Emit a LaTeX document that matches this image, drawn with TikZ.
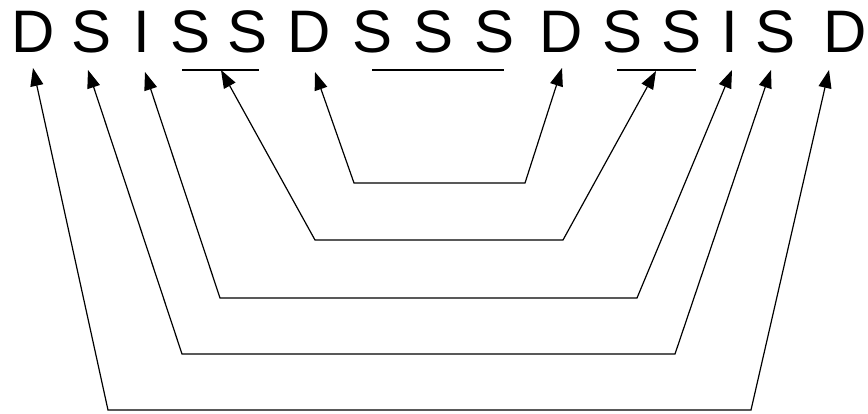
\documentclass[tikz,border=0pt]{standalone}
\usepackage{fontspec}
\setmainfont{Liberation Sans}
\usetikzlibrary{arrows.meta}

\begin{document}
\begin{tikzpicture}[
      x=1pt,y=-1pt,
      let/.style={inner sep=0pt,anchor=base,font=\fontsize{60}{72}\selectfont},
      bar/.style={black,line width=1.2pt},
      fl/.style={{Triangle[length=18pt,width=13pt]}-{Triangle[length=18pt,width=13pt]},
                 black,line width=1.2pt,line join=miter}]
    \useasboundingbox (0,0) rectangle (868,414);
    % the letter row
    \node[let] (d1) at (33,53) {D};
    \node[let] (s1) at (92,53) {S};
    \node[let] (i1) at (142,53) {I};
    \node[let] (s2) at (191,53) {S};
    \node[let] (s3) at (248,53) {S};
    \node[let] (d2) at (309,53) {D};
    \node[let] (s4) at (373,53) {S};
    \node[let] (s5) at (434,53) {S};
    \node[let] (s6) at (495,53) {S};
    \node[let] (d3) at (561,53) {D};
    \node[let] (s7) at (623,53) {S};
    \node[let] (s8) at (682,53) {S};
    \node[let] (i2) at (730,53) {I};
    \node[let] (s9) at (776,53) {S};
    \node[let] (d4) at (845,53) {D};
    % bars under the S groups
    \draw[bar] (182,70) -- (259,70);
    \draw[bar] (372,70) -- (504,70);
    \draw[bar] (617,70) -- (696,70);
    % arrow tips
    \coordinate (tD1) at (33,68);   \coordinate (tD4) at (829,70);
    \coordinate (tS1) at (88,70);   \coordinate (tS9) at (771,70);
    \coordinate (tI1) at (145,72);  \coordinate (tI2) at (732,70);
    \coordinate (tSS) at (221,70);  \coordinate (tSSb) at (656,71);
    \coordinate (tD2) at (315,72);  \coordinate (tD3) at (562,68);
    % corners of the brackets
    \coordinate (a1) at (354,183);  \coordinate (b1) at (525,183);
    \coordinate (a2) at (315,240);  \coordinate (b2) at (563,240);
    \coordinate (a3) at (220,298);  \coordinate (b3) at (637,298);
    \coordinate (a4) at (182,354);  \coordinate (b4) at (675,354);
    \coordinate (a5) at (108,410);  \coordinate (b5) at (751,410);
    \draw[fl] (tD2) -- (a1) -- (b1) -- (tD3);
    \draw[fl] (tSS) -- (a2) -- (b2) -- (tSSb);
    \draw[fl] (tI1) -- (a3) -- (b3) -- (tI2);
    \draw[fl] (tS1) -- (a4) -- (b4) -- (tS9);
    \draw[fl] (tD1) -- (a5) -- (b5) -- (tD4);
  \end{tikzpicture}
\end{document}
